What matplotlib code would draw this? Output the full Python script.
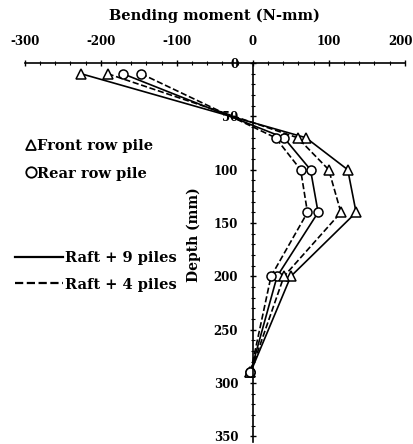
import matplotlib
matplotlib.use("Agg")
import matplotlib.pyplot as plt
import matplotlib.transforms as mtransforms
from matplotlib.lines import Line2D
from matplotlib.ticker import MultipleLocator

plt.rcParams['font.family'] = ['DejaVu Serif']
plt.rcParams['font.weight'] = 'bold'
plt.rcParams['axes.unicode_minus'] = False

# Depth of the measuring points along the pile (mm)
depth = [10, 70, 100, 140, 200, 290]

# Bending moment profiles (N-mm)
front_9 = [-226, 70, 125, 136, 50, -3]
rear_9 = [-171, 41, 76, 86, 32, -3]
front_4 = [-191, 59, 100, 116, 41, -3]
rear_4 = [-147, 30, 63, 72, 24, -3]

fig = plt.figure(figsize=(4.13, 4.44), dpi=100)
ax = fig.add_axes([0.06, 0.005, 0.92, 0.853])

mk = dict(color='black', lw=1.2, markersize=6.5, markerfacecolor='white',
          markeredgecolor='black', markeredgewidth=1.1)
ax.plot(front_9, depth, '-', marker='^', **mk)
ax.plot(rear_9, depth, '-', marker='o', **mk)
ax.plot(front_4, depth, '--', marker='^', **mk)
ax.plot(rear_4, depth, '--', marker='o', **mk)

ax.set_xlim(-300, 200)
ax.set_ylim(355, 0)

for s in ['right', 'bottom']:
    ax.spines[s].set_visible(False)
ax.spines['left'].set_position(('data', 0))
ax.spines['top'].set_linewidth(1.2)
ax.spines['left'].set_linewidth(1.2)

ax.xaxis.set_ticks_position('top')
ax.xaxis.set_label_position('top')
ax.xaxis.set_major_locator(MultipleLocator(100))
ax.xaxis.set_minor_locator(MultipleLocator(20))
ax.yaxis.set_major_locator(MultipleLocator(50))
ax.yaxis.set_minor_locator(MultipleLocator(10))
ax.tick_params(which='major', direction='inout', length=5, width=1.0,
               labelsize=8.5, pad=8)
ax.tick_params(which='minor', direction='inout', length=3, width=0.8)
ax.tick_params(axis='y', pad=8)
for lab in ax.get_xticklabels() + ax.get_yticklabels():
    lab.set_fontweight('bold')

# keep the right-most tick label inside the figure
fig.canvas.draw()
for lab in ax.get_xticklabels():
    if lab.get_text() == '200':
        lab.set_transform(lab.get_transform() +
                          mtransforms.ScaledTranslation(-4 / 100, 0, fig.dpi_scale_trans))

ax.set_xlabel('Bending moment (N-mm)', fontsize=10.5, fontweight='bold', labelpad=11)
ax.set_ylabel('Depth (mm)', fontsize=10, fontweight='bold')
ax.yaxis.set_label_coords(0.465, 0.546)

marker_handles = [
    Line2D([], [], linestyle='none', marker='^', markersize=7.5,
           markerfacecolor='white', markeredgecolor='black', markeredgewidth=1.3),
    Line2D([], [], linestyle='none', marker='o', markersize=7.5,
           markerfacecolor='white', markeredgecolor='black', markeredgewidth=1.3),
]
leg1 = ax.legend(marker_handles, ['Front row pile', 'Rear row pile'],
                 loc='upper left', bbox_to_anchor=(-0.03, 0.835), frameon=False,
                 handlelength=0.6, handletextpad=0.15, labelspacing=0.95,
                 prop={'weight': 'bold', 'size': 10.5})
ax.add_artist(leg1)

line_handles = [
    Line2D([], [], color='black', lw=1.6, linestyle='-'),
    Line2D([], [], color='black', lw=1.6, linestyle='--'),
]
ax.legend(line_handles, ['Raft + 9 piles', 'Raft + 4 piles'],
          loc='upper left', bbox_to_anchor=(-0.06, 0.538), frameon=False,
          handlelength=3.3, handletextpad=0.15, labelspacing=0.85,
          prop={'weight': 'bold', 'size': 10.5})

fig.savefig('out.png', dpi=100)
